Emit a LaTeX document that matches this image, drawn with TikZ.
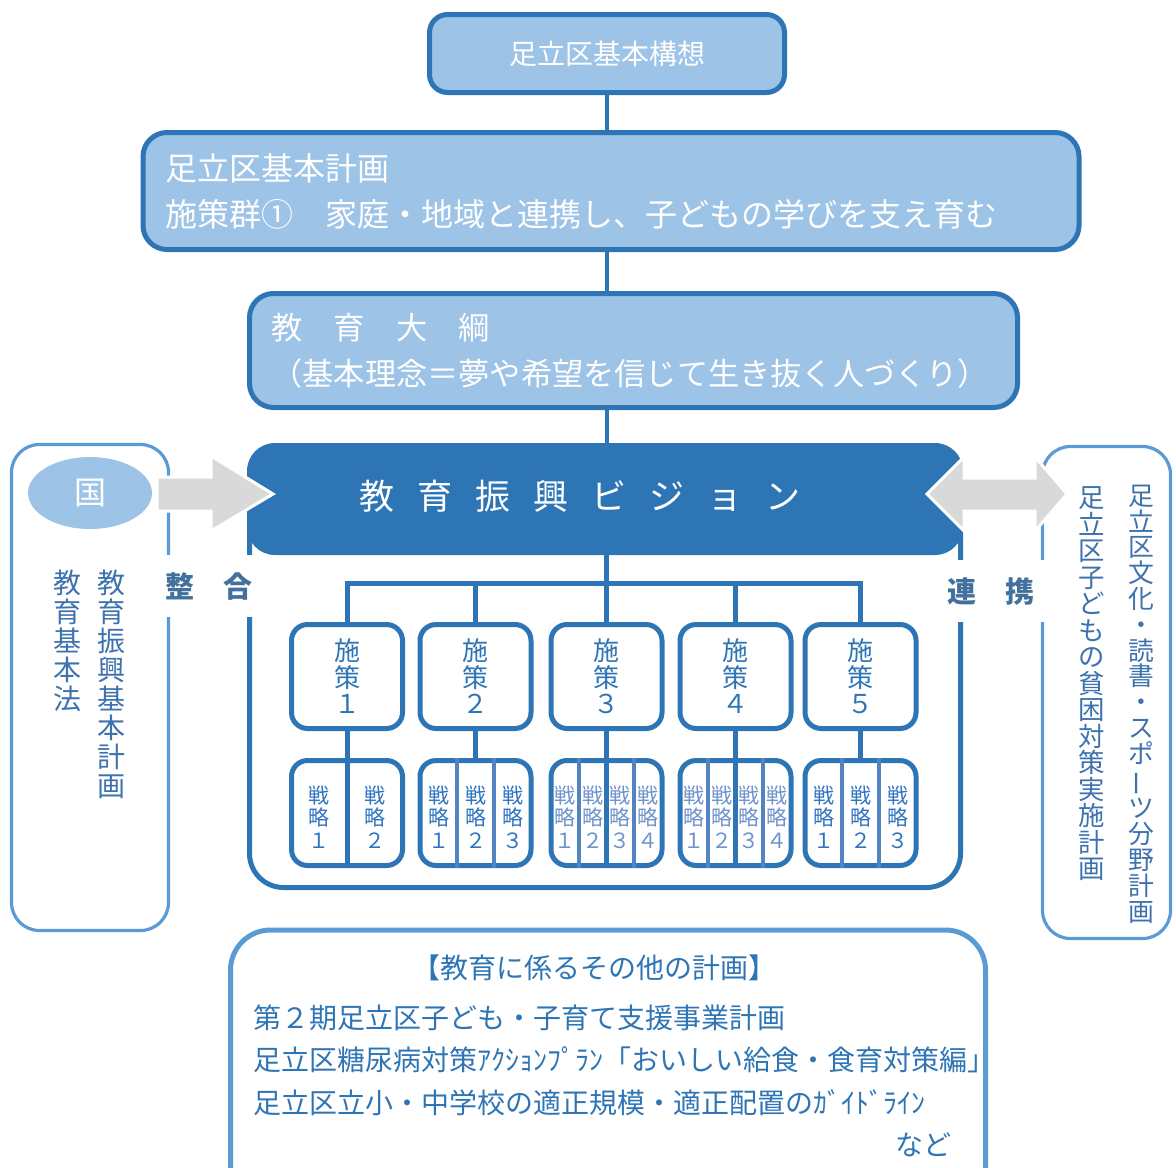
\documentclass[tikz,border=0pt]{standalone}
\usepackage{fontspec}
\setmainfont{Noto Sans CJK JP}
\usetikzlibrary{shapes.geometric}

\definecolor{darkblue}{HTML}{2E75B6}
\definecolor{midblue}{HTML}{5B9BD5}
\definecolor{paleblue}{HTML}{9DC3E6}
\definecolor{slateblue}{HTML}{41719C}
\definecolor{sideblue}{HTML}{3D72AE}
\definecolor{divblue}{HTML}{5383C1}
\definecolor{cellblue}{HTML}{2F74C0}
\definecolor{softblue}{HTML}{6F93CC}
\definecolor{arrowgray}{HTML}{D9D9D9}

\newcommand\wdigit[1]{\ifcase#1\or １\or ２\or ３\or ４\or ５\fi}

\begin{document}
\begin{tikzpicture}
    [x=0.5pt, y=-0.5pt,
    planbox/.style={draw=darkblue, fill=paleblue, line width=2.5pt, rounded corners=9pt, text=white, inner sep=0pt},
    measurebox/.style={draw=darkblue, fill=white, line width=2.5pt, rounded corners=8pt, minimum width=55.5pt, inner sep=0pt},
    sidebox/.style={draw=midblue, line width=1.6pt, rounded corners=14pt},
    link/.style={darkblue, line width=2.2pt},
    divider/.style={divblue, line width=2pt},
    blockarrow/.style={fill=arrowgray, draw=white, line width=1.5pt},
    bridge/.style={fill=white, text=slateblue, inner sep=0pt, minimum height=31pt, font=\bfseries\fontsize{14.5pt}{14.5pt}\selectfont},
    sidetext/.style={text=sideblue, align=center, inner sep=0pt},
    othertext/.style={text=darkblue, inner sep=0pt, font=\fontsize{14pt}{16pt}\selectfont}]

    \useasboundingbox (0, 0) rectangle (1176, 1167);
    \clip (0, 0) rectangle (1176, 1167);
    \def\vgap{\hspace{11.5pt}}

    % drawing the plans above
    \node[planbox, minimum width=177.5pt, minimum height=39pt, font=\fontsize{14pt}{14pt}\selectfont] (top) at (607, 53.5) {足立区基本構想};
    \node[planbox, rounded corners=12pt, text width=446pt, inner xsep=11pt, minimum height=58.5pt, align=left, font=\fontsize{16pt}{23pt}\selectfont] (plan) at (611, 191) {足立区基本計画\\施策群①　家庭・地域と連携し、子どもの学びを支え育む};
    \node[planbox, rounded corners=12pt, text width=362pt, inner xsep=11pt, minimum height=57pt, align=left, font=\fontsize{15.6pt}{23pt}\selectfont] (taikou) at (633.5, 350.5) {教　育　大　綱\\（基本理念＝夢や希望を信じて生き抜く人づくり）};

    % drawing the side boxes and the frame
    \node[sidebox, minimum width=78.5pt, minimum height=243pt] (nationbox) at (90, 687.5) {};
    \node[sidebox, minimum width=64pt, minimum height=246pt] (linkbox) at (1106.5, 692.5) {};
    \node[draw=darkblue, line width=2.5pt, rounded corners=17pt, minimum width=355.5pt, minimum height=221pt] (frame) at (605, 666.5) {};

    % drawing the vision banner
    \node[fill=darkblue, rounded corners=14pt, minimum width=358pt, minimum height=56pt] (vision) at (605, 499) {};
    \node[ellipse, fill=paleblue, minimum width=62pt, minimum height=36pt, inner sep=0pt, text=white, font=\fontsize{16pt}{16pt}\selectfont] (nation) at (90, 493) {国};

    % drawing the block arrows
    \draw[blockarrow] (157, 477) -- (211, 477) -- (211, 456) -- (273, 494) -- (211, 531) -- (211, 511) -- (157, 511) -- cycle;
    \draw[blockarrow] (927, 494) -- (964, 457) -- (964, 478) -- (1035, 478) -- (1035, 457) -- (1067, 494) -- (1035, 531) -- (1035, 511) -- (964, 511) -- (964, 531) -- cycle;

    \node[text=white, font=\fontsize{17.5pt}{17.5pt}\selectfont] (visiontext) at (580, 496) {教\vgap 育\vgap 振\vgap 興\vgap ビ\vgap ジ\vgap ョ\vgap ン};

    % drawing the connectors above
    \draw[link] (top.south) -- (plan.north -| top.south);
    \draw[link] (plan.south -| top.south) -- (taikou.north -| top.south);
    \draw[link] (taikou.south -| top.south) -- (vision.north -| top.south);

    % drawing the measures and the strategies
    \foreach \i/\cx/\n in {1/347/2, 2/475.5/3, 3/606.5/4, 4/735.5/4, 5/860.5/3} {
        \ifnum\n=4 \def\tc{softblue}\else\def\tc{cellblue}\fi
        \node[measurebox, minimum height=52pt, text=darkblue, align=center, font=\fontsize{13pt}{13.25pt}\selectfont] (s\i) at (\cx, 676.5) {施\\策\\\wdigit{\i}};
        \node[measurebox, minimum height=52.5pt] (e\i) at (\cx, 813) {};
        \foreach \k in {1,...,\n} {
            \pgfmathsetmacro\px{\cx - 55.5 + (\k - 0.5)*111/\n}
            \node[text=\tc, align=center, inner sep=0pt, font=\fontsize{10.5pt}{11.25pt}\selectfont] (e\i c\k) at (\px, 817) {戦\\略\\\wdigit{\k}};
        }
        \pgfmathtruncatemacro\m{\n - 1}
        \foreach \k in {1,...,\m} {
            \pgfmathsetmacro\dx{\cx - 55.5 + \k*111/\n}
            \draw[divider] (\dx, 758) -- (\dx, 868);
        }
        \ifodd\n
            \draw[link, line width=2.5pt] (s\i.south) -- (e\i.north);
        \else
            \draw[link, line width=2.5pt] (s\i.south) -- (e\i.south);
        \fi
    }

    % drawing the tree under the banner
    \coordinate (bus) at (607, 583);
    \draw[link, line width=2.5pt] (vision.south -| s3.north) -- (s3.north);
    \draw[link, line width=2.5pt] (s1.north) |- (bus) -| (s5.north);
    \draw[link, line width=2.5pt] (s2.north) -- (s2.north |- bus);
    \draw[link, line width=2.5pt] (s4.north) -- (s4.north |- bus);

    % drawing the side labels
    \node[bridge, minimum width=50pt] (adjust) at (209, 586) {整　合};
    \node[bridge, minimum width=57pt] (cooperate) at (991, 591) {連　携};

    \node[sidetext, font=\fontsize{14pt}{14.5pt}\selectfont] (lawplan) at (111, 684) {教\\育\\振\\興\\基\\本\\計\\画};
    \node[sidetext, font=\fontsize{14pt}{14.5pt}\selectfont] (lawbase) at (67, 640.5) {教\\育\\基\\本\\法};
    \node[sidetext, font=\fontsize{12.9pt}{12.9pt}\selectfont] (culture) at (1141, 704) {足\\立\\区\\文\\化\\・\\読\\書\\・\\ス\\ポ\\\rotatebox[origin=c]{90}{ー}\\ツ\\分\\野\\計\\画};
    \node[sidetext, font=\fontsize{13.2pt}{13.25pt}\selectfont] (poverty) at (1092, 684) {足\\立\\区\\子\\ど\\も\\の\\貧\\困\\対\\策\\実\\施\\計\\画};

    % drawing the other plans
    \node[sidebox, line width=2.5pt, rounded corners=20pt, minimum width=377.5pt, minimum height=140pt] (others) at (608, 1070) {};
    \node[othertext] (otitle) at (594, 968) {【教育に係るその他の計画】};
    \node[othertext, anchor=west] (oplan1) at (253, 1018) {第２期足立区子ども・子育て支援事業計画};
    \node[othertext, anchor=west] (oplan2) at (253, 1060) {足立区糖尿病対策ｱｸｼｮﾝﾌﾟﾗﾝ「おいしい給食・食育対策編」};
    \node[othertext, anchor=west] (oplan3) at (253, 1103) {足立区立小・中学校の適正規模・適正配置のｶﾞｲﾄﾞﾗｲﾝ};
    \node[othertext, anchor=east] (oetc) at (952, 1145) {など};

\end{tikzpicture}
\end{document}
